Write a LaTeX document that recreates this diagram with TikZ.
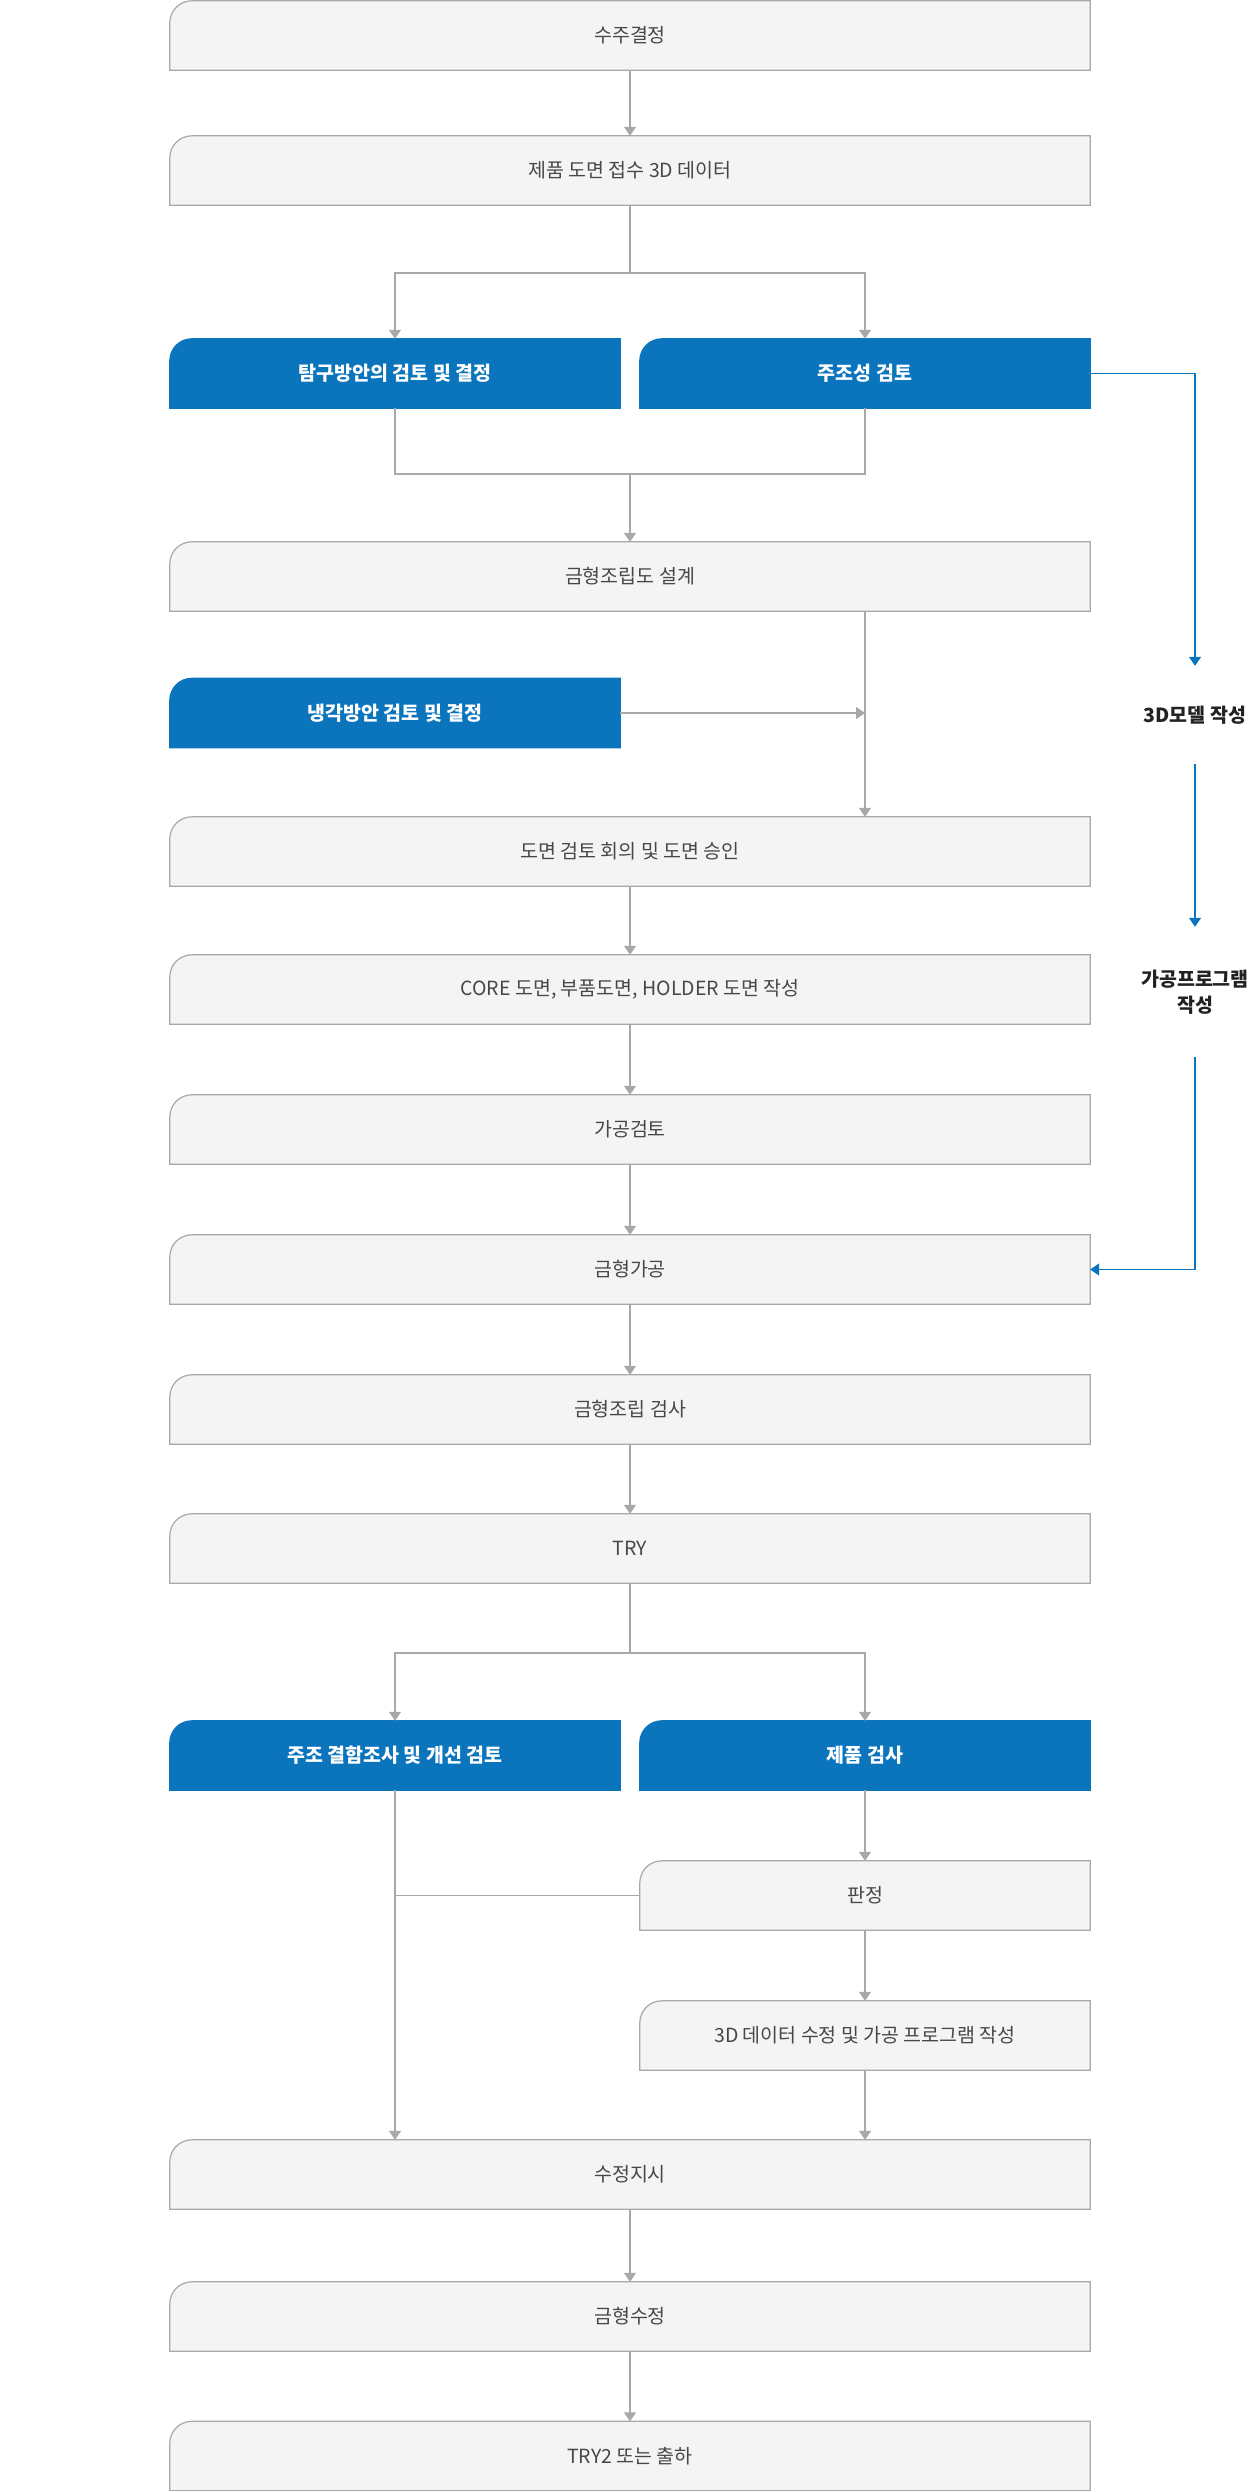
\documentclass[tikz,border=0pt]{standalone}
\usepackage{fontspec}
\setmainfont{Noto Sans CJK KR}
\usetikzlibrary{arrows.meta,calc}
\definecolor{blu}{HTML}{0A74BC}
\definecolor{gfill}{HTML}{F4F4F4}
\definecolor{gline}{HTML}{A8A8A8}
\definecolor{gtext}{HTML}{474747}
\definecolor{dtext}{HTML}{222222}
\pgfdeclarelayer{bg}\pgfsetlayers{bg,main}
\newcommand\tlshape[3]{\path[fill=#2,draw=#3,line width=1.2pt] (#1.south west) -- ([yshift=-22pt]#1.north west) arc[start angle=180,end angle=90,radius=22pt] -- (#1.north east) -- (#1.south east) -- cycle;}
\begin{document}
\begin{tikzpicture}[x=1pt,y=1pt,
 gbox/.style={minimum width=920pt,minimum height=69pt,inner sep=0pt,text=gtext,font=\fontsize{19.5}{23}\selectfont},
 hbox/.style={gbox,minimum width=450pt},
 bbox/.style={hbox,text=white,font=\fontsize{19.5}{23}\selectfont\bfseries},
 conn/.style={draw=gline,line width=1.2pt},
 arr/.style={conn,-{Triangle[width=12pt,length=9pt]}},
 bconn/.style={draw=blu,line width=1.3pt},
 barr/.style={bconn,-{Triangle[width=12pt,length=9pt]}},
 lbl/.style={text=dtext,font=\fontsize{19.5}{26}\selectfont\bfseries,align=center,inner sep=0pt}]
\useasboundingbox (0,0) rectangle (1260,-2491);

\node[gbox] (n1) at (630,-35.5) {수주결정};
\node[gbox] (n2) at (630,-170.5) {제품 도면 접수 3D 데이터};
\node[bbox] (bl1) at (395,-373.5) {탐구방안의 검토 및 결정};
\node[bbox] (br1) at (865,-373.5) {주조성 검토};
\node[gbox] (n3) at (630,-576.5) {금형조립도 설계};
\node[bbox] (bc) at (395,-713) {냉각방안 검토 및 결정};
\node[gbox] (n4) at (630,-851.5) {도면 검토 회의 및 도면 승인};
\node[gbox] (n5) at (630,-989.5) {CORE 도면, 부품도면, HOLDER 도면 작성};
\node[gbox] (n6) at (630,-1129.5) {가공검토};
\node[gbox] (n7) at (630,-1269.5) {금형가공};
\node[gbox] (n8) at (630,-1409.5) {금형조립 검사};
\node[gbox] (n9) at (630,-1548.5) {TRY};
\node[bbox] (bl2) at (395,-1755.5) {주조 결함조사 및 개선 검토};
\node[bbox] (br2) at (865,-1755.5) {제품 검사};
\node[hbox] (j) at (865,-1895.5) {판정};
\node[hbox] (d) at (865,-2035.5) {3D 데이터 수정 및 가공 프로그램 작성};
\node[gbox] (s) at (630,-2174.5) {수정지시};
\node[gbox] (f) at (630,-2316.5) {금형수정};
\node[gbox] (t2) at (630,-2456) {TRY2 또는 출하};

\node[lbl,minimum height=98pt] (L1) at (1195,-715) {3D모델 작성};
\node[lbl,minimum height=130pt] (L2) at (1195,-992) {가공프로그램\\작성};

\begin{pgfonlayer}{bg}
\foreach \n in {n1,n2,n3,n4,n5,n6,n7,n8,n9,j,d,s,f,t2} {\tlshape{\n}{gfill}{gline}}
\foreach \n in {bl1,br1,bc,bl2,br2} {\tlshape{\n}{blu}{blu}}
\end{pgfonlayer}

\coordinate (s1) at (630,-273);
\coordinate (m1) at (630,-474);
\coordinate (s2) at (630,-1653);

\draw[arr] (n1) -- (n2);
\draw[conn] (n2.south) -- (s1);
\draw[arr] (s1) -| (bl1.north);
\draw[arr] (s1) -| (br1.north);
\draw[conn] (bl1.south) |- (m1) -| (br1.south);
\draw[arr] (m1) -- (n3.north);
\draw[arr] (n3.south -| br1.south) -- (n4.north -| br1.south);
\draw[arr] (bc.east) -- (bc.east -| br1.south);
\draw[arr] (n4) -- (n5);
\draw[arr] (n5) -- (n6);
\draw[arr] (n6) -- (n7);
\draw[arr] (n7) -- (n8);
\draw[arr] (n8) -- (n9);
\draw[conn] (n9.south) -- (s2);
\draw[arr] (s2) -| (bl2.north);
\draw[arr] (s2) -| (br2.north);
\draw[arr] (br2) -- (j);
\draw[arr] (bl2.south) -- (bl2.south |- s.north);
\draw[conn] (j.west) -- (j.west -| bl2.south);
\draw[arr] (j) -- (d);
\draw[arr] (d.south) -- (d.south |- s.north);
\draw[arr] (s) -- (f);
\draw[arr] (f) -- (t2);

\draw[barr] (br1.east) -| (L1.north);
\draw[barr] (L1.south) -- (L2.north);
\draw[barr] (L2.south) |- (n7.east);
\end{tikzpicture}
\end{document}
